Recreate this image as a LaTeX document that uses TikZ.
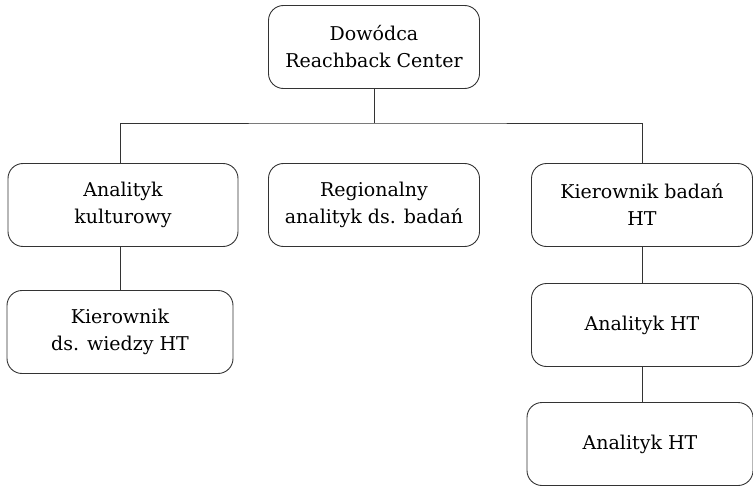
\documentclass[tikz,border=0pt]{standalone}
\usepackage{fontspec}
\setmainfont{DejaVu Serif}
\usepackage{tikz}
\usetikzlibrary{positioning}

\tikzset{
  box/.style={draw=black!80, line width=0.9pt, rounded corners=15pt, align=center,
    inner sep=0pt, minimum height=83pt, font=\fontsize{19}{27}\selectfont},
  link/.style={draw=black!80, line width=0.9pt}
}

\begin{document}
\begin{tikzpicture}
	[x=1pt, y=1pt, on grid]
   \useasboundingbox (0,0) rectangle (753,-487);
   \node[box, minimum width=211pt] (dowodca) at (374,-47) {Dowódca\\Reachback Center};
   \node[box, minimum width=211pt] (regional) [below=158pt of dowodca] {Regionalny\\analityk ds. badań};
   \node[box, minimum width=230pt] (kulturowy) [left=251pt of regional] {Analityk\\kulturowy};
   \node[box, minimum width=226pt] (wiedza) [below=127pt of kulturowy, xshift=-3pt] {Kierownik\\ds. wiedzy HT};
   \node[box, minimum width=221pt] (badan) [right=268pt of regional] {Kierownik badań\\HT};
   \node[box, minimum width=221pt] (ht_1) [below=120pt of badan] {Analityk HT};
   \node[box, minimum width=226pt] (ht_2) [below=119pt of ht_1, xshift=-2pt] {Analityk HT};
   \node[coordinate] (bus) [below=76pt of dowodca] {};

   \path[link]
    (dowodca) -- (bus)
    (kulturowy.north -| wiedza.north) |- (bus) -| (badan.north)
    (wiedza.north |- kulturowy.south) -- (wiedza.north)
    (badan) -- (ht_1)
    (ht_1.south) -- (ht_1.south |- ht_2.north);
\end{tikzpicture}
\end{document}
